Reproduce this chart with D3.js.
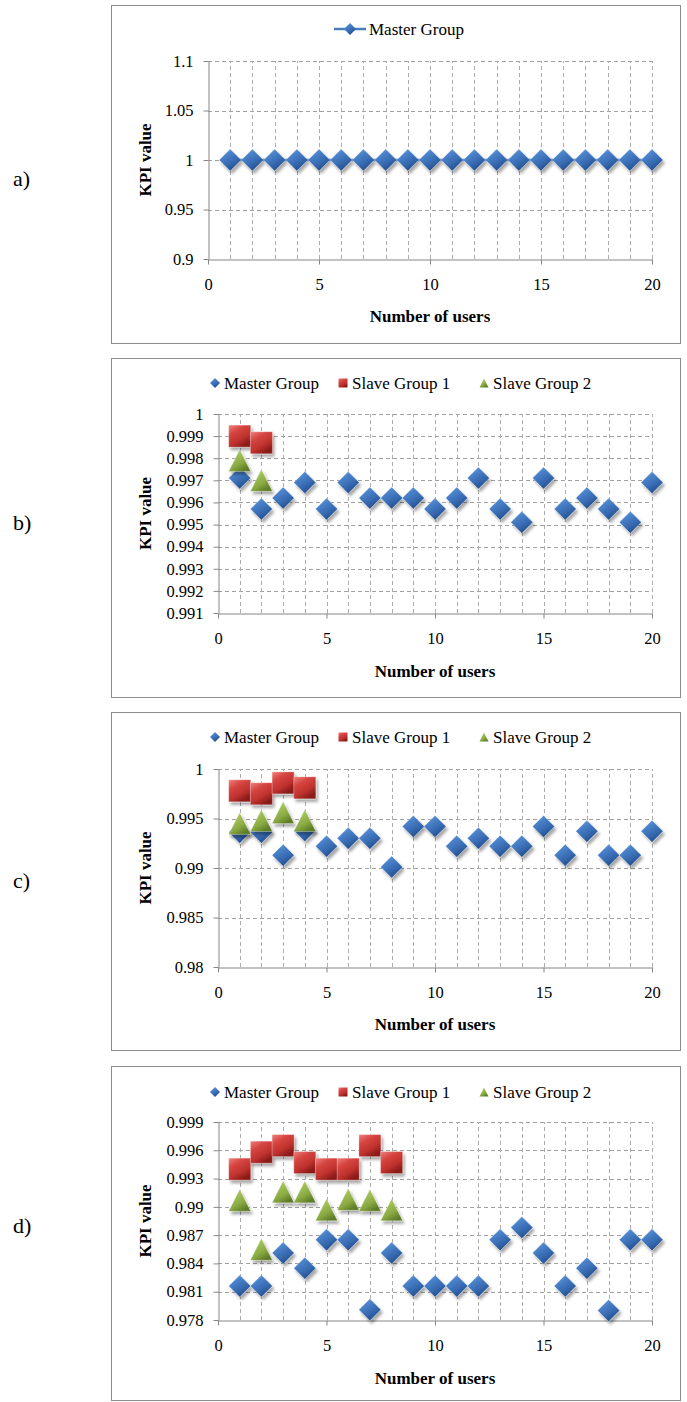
<!DOCTYPE html>
<html>
<head>
<meta charset="utf-8">
<script src="https://cdn.jsdelivr.net/npm/d3@7/dist/d3.min.js"></script>
<style>
  body { margin: 0; background: #fff; }
</style>
</head>
<body>
<svg id="chart" width="687" height="1402"></svg>
<script>
// x categories and ticks
var users = [1, 2, 3, 4, 5, 6, 7, 8, 9, 10, 11, 12, 13, 14, 15, 16, 17, 18, 19, 20];
var xTicks = [0, 5, 10, 15, 20];
var seriesNames = ['Master Group', 'Slave Group 1', 'Slave Group 2'];

// a) master group only
var masterA = [1, 1, 1, 1, 1, 1, 1, 1, 1, 1, 1, 1, 1, 1, 1, 1, 1, 1, 1, 1];
var yTicksA = [0.9, 0.95, 1, 1.05, 1.1];

// b)
var masterB = [0.9971, 0.9957, 0.9962, 0.9969, 0.9957, 0.9969, 0.9962, 0.9962, 0.9962, 0.9957,
  0.9962, 0.9971, 0.9957, 0.9951, 0.9971, 0.9957, 0.9962, 0.9957, 0.9951, 0.9969];
var slave1B = [0.9990, 0.9987];
var slave2B = [0.9979, 0.9970];
var yTicksB = [0.991, 0.992, 0.993, 0.994, 0.995, 0.996, 0.997, 0.998, 0.999, 1];

// c)
var masterC = [0.9936, 0.9936, 0.9913, 0.9938, 0.9922, 0.9930, 0.9930, 0.9901, 0.9942, 0.9942,
  0.9922, 0.9930, 0.9922, 0.9922, 0.9942, 0.9913, 0.9937, 0.9913, 0.9913, 0.9937];
var slave1C = [0.9978, 0.9975, 0.9986, 0.9981];
var slave2C = [0.9945, 0.9948, 0.9956, 0.9948];
var yTicksC = [0.98, 0.985, 0.99, 0.995, 1];

// d)
var masterD = [0.9816, 0.9816, 0.9851, 0.9835, 0.9865, 0.9865, 0.9791, 0.9851, 0.9816, 0.9816,
  0.9816, 0.9816, 0.9865, 0.9878, 0.9851, 0.9816, 0.9835, 0.9790, 0.9865, 0.9865];
var slave1D = [0.9940, 0.9958, 0.9965, 0.9947, 0.9940, 0.9940, 0.9965, 0.9947];
var slave2D = [0.9907, 0.9855, 0.9916, 0.9916, 0.9897, 0.9908, 0.9907, 0.9897];
var yTicksD = [0.978, 0.981, 0.984, 0.987, 0.99, 0.993, 0.996, 0.999];

var FONT = 'Liberation Serif';
var svg = d3.select('#chart').attr('font-family', FONT);

// gradients + shadow for the excel style 3d markers
var defs = svg.append('defs');
function gradient(id, stops) {
  var gr = defs.append('linearGradient').attr('id', id)
    .attr('x1', 0).attr('y1', 0).attr('x2', 0.6).attr('y2', 1);
  stops.forEach(function (s) {
    gr.append('stop').attr('offset', s[0]).attr('stop-color', s[1]);
  });
}
gradient('gBlue', [[0, '#86afe4'], [0.35, '#4a82ca'], [0.7, '#3669b0'], [1, '#214c88']]);
gradient('gRed', [[0, '#ee817d'], [0.35, '#d64541'], [0.7, '#bf322e'], [1, '#8a1a18']]);
gradient('gGreen', [[0, '#cbe094'], [0.35, '#a2c15a'], [0.7, '#8aaa42'], [1, '#5f7d28']]);
defs.append('filter').attr('id', 'shadow')
  .attr('x', '-50%').attr('y', '-50%').attr('width', '200%').attr('height', '200%')
  .append('feDropShadow')
  .attr('dx', 2).attr('dy', 3).attr('stdDeviation', 1.8)
  .attr('flood-color', '#000').attr('flood-opacity', 0.35);

var fills = ['url(#gBlue)', 'url(#gRed)', 'url(#gGreen)'];
var flat = ['#4a7ebb', '#c0504d', '#9bbb59'];

function markerPath(type, r) {
  if (type == 0) return 'M0,' + -r + 'L' + r + ',0L0,' + r + 'L' + -r + ',0Z';
  if (type == 1) return 'M' + -r + ',' + -r + 'H' + r + 'V' + r + 'H' + -r + 'Z';
  return 'M0,' + -r + 'L' + r + ',' + r + 'H' + -r + 'Z';
}

function addText(sel, size, bold) {
  return sel.append('text')
    .attr('font-family', FONT)
    .attr('font-size', size)
    .attr('font-weight', bold ? 'bold' : 'normal')
    .attr('fill', '#000');
}

var panels = [
  { label: 'a)', labelY: 178, frame: [111, 5, 569, 338], x0: 208, x1: 652, yTop: 61, yBot: 259,
    yTicks: yTicksA, series: [masterA], line: true, legendY: 29, titleY: 316 },
  { label: 'b)', labelY: 522, frame: [111, 358, 569, 339], x0: 218, x1: 652, yTop: 414, yBot: 613,
    yTicks: yTicksB, series: [masterB, slave1B, slave2B], legendY: 383, titleY: 671 },
  { label: 'c)', labelY: 880, frame: [111, 712, 569, 338], x0: 218, x1: 652, yTop: 769, yBot: 967,
    yTicks: yTicksC, series: [masterC, slave1C, slave2C], legendY: 737, titleY: 1024 },
  { label: 'd)', labelY: 1225, frame: [111, 1066, 569, 334], x0: 218, x1: 652, yTop: 1122, yBot: 1320,
    yTicks: yTicksD, series: [masterD, slave1D, slave2D], legendY: 1092, titleY: 1378 }
];

function drawPanel(p) {
  var g = svg.append('g');

  addText(g, 22).attr('x', 13).attr('y', p.labelY)
    .attr('dominant-baseline', 'central').text(p.label);

  g.append('rect')
    .attr('x', p.frame[0] + 0.5).attr('y', p.frame[1] + 0.5)
    .attr('width', p.frame[2]).attr('height', p.frame[3])
    .attr('fill', '#fff').attr('stroke', '#8c8c8c');

  var x = d3.scaleLinear().domain([0, 20]).range([p.x0, p.x1]);
  var y = d3.scaleLinear().domain(d3.extent(p.yTicks)).range([p.yBot, p.yTop]);

  // dashed gridlines
  g.selectAll('.hgrid').data(p.yTicks.slice(1)).enter().append('line')
    .attr('x1', x(0)).attr('x2', x(20))
    .attr('y1', function (d) { return Math.round(y(d)) + 0.5; })
    .attr('y2', function (d) { return Math.round(y(d)) + 0.5; })
    .attr('stroke', '#a0a0a0').attr('stroke-dasharray', '4,3');
  g.selectAll('.vgrid').data(users).enter().append('line')
    .attr('x1', function (d) { return Math.round(x(d)) + 0.5; })
    .attr('x2', function (d) { return Math.round(x(d)) + 0.5; })
    .attr('y1', y.range()[0]).attr('y2', y.range()[1])
    .attr('stroke', '#adadad').attr('stroke-dasharray', '4,3');

  var yAxis = g.append('g')
    .attr('transform', 'translate(' + (Math.round(p.x0) + 0.5) + ',0)')
    .call(d3.axisLeft(y).tickValues(p.yTicks).tickSize(5).tickSizeOuter(0).tickPadding(10)
      .tickFormat(function (d) { return String(d); }));
  var xAxis = g.append('g')
    .attr('transform', 'translate(0,' + (Math.round(p.yBot) + 0.5) + ')')
    .call(d3.axisBottom(x).tickValues(xTicks).tickSize(5).tickSizeOuter(0).tickPadding(14));
  [yAxis, xAxis].forEach(function (a) {
    a.attr('color', '#868686').attr('font-family', FONT).attr('font-size', 16.5);
    a.selectAll('text').attr('fill', '#000').attr('font-family', FONT);
  });

  // axis titles
  addText(g, 17, true)
    .attr('transform', 'translate(145,' + (p.yTop + p.yBot) / 2 + ') rotate(-90)')
    .attr('text-anchor', 'middle').attr('dominant-baseline', 'central')
    .text('KPI value');
  addText(g, 17, true)
    .attr('x', (p.x0 + p.x1) / 2).attr('y', p.titleY)
    .attr('text-anchor', 'middle').attr('dominant-baseline', 'central')
    .text('Number of users');

  // series
  if (p.line) {
    var line = d3.line()
      .x(function (d, i) { return x(users[i]); })
      .y(function (d) { return y(d); });
    g.append('path').datum(p.series[0]).attr('d', line)
      .attr('fill', 'none').attr('stroke', flat[0]).attr('stroke-width', 2.5);
  }
  p.series.forEach(function (vals, s) {
    g.selectAll('.m' + s).data(vals).enter().append('path')
      .attr('transform', function (d, i) {
        return 'translate(' + x(users[i]) + ',' + y(d) + ')';
      })
      .attr('d', markerPath(s, 11))
      .attr('fill', fills[s])
      .attr('stroke', 'rgba(255,255,255,0.35)').attr('stroke-width', 0.8)
      .attr('filter', 'url(#shadow)');
  });

  // legend
  var lg = g.append('g').attr('transform', 'translate(0,' + p.legendY + ')');
  if (p.line) {
    lg.append('line').attr('x1', 334).attr('x2', 366).attr('y1', 0).attr('y2', 0)
      .attr('stroke', flat[0]).attr('stroke-width', 2.5);
    lg.append('path').attr('transform', 'translate(350,0)').attr('d', markerPath(0, 6))
      .attr('fill', fills[0]);
    addText(lg, 17).attr('x', 369).attr('y', 0).attr('dominant-baseline', 'central')
      .text(seriesNames[0]);
  } else {
    var lx = [215, 343, 484];
    seriesNames.forEach(function (name, s) {
      lg.append('path').attr('transform', 'translate(' + lx[s] + ',0)')
        .attr('d', markerPath(s, s == 0 ? 5 : 4.5))
        .attr('fill', fills[s]);
      addText(lg, 17).attr('x', lx[s] + 9).attr('y', 0).attr('dominant-baseline', 'central')
        .text(name);
    });
  }
}

panels.forEach(drawPanel);
</script>
</body>
</html>
